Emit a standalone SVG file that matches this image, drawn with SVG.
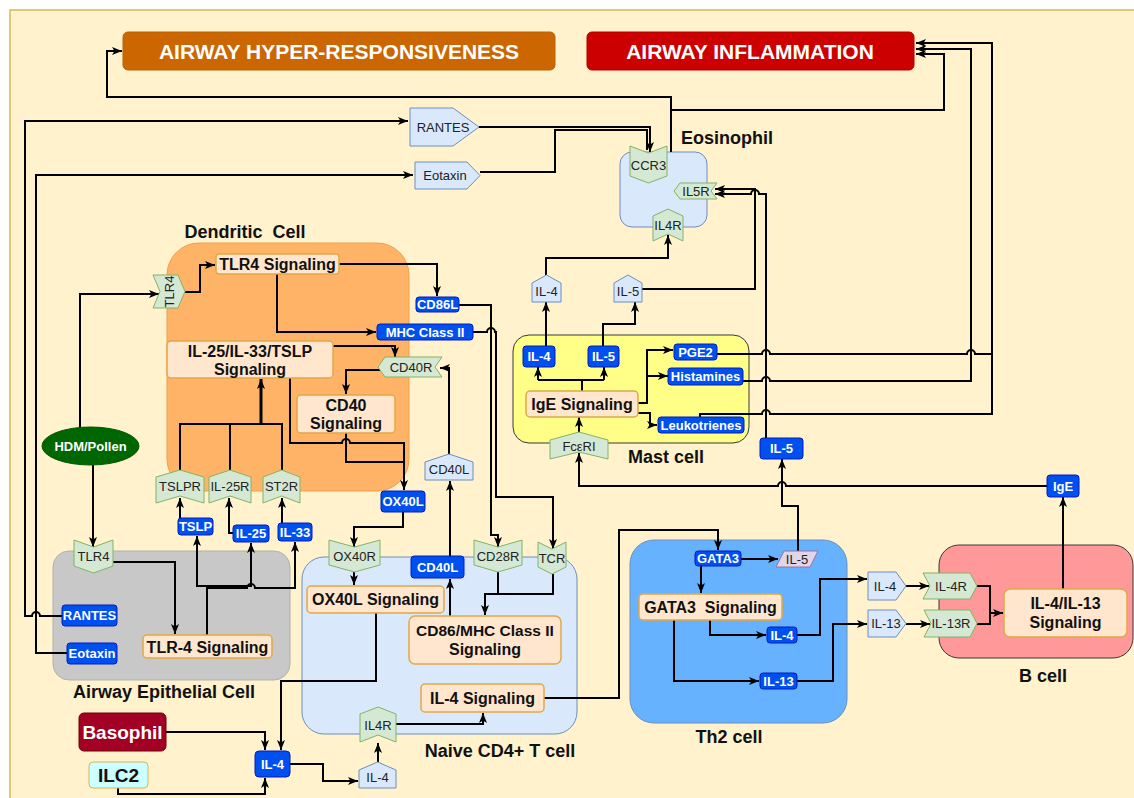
<svg xmlns="http://www.w3.org/2000/svg" width="1134" height="798" viewBox="0 0 1134 798">
  <defs>
    <marker id="ah" viewBox="0 0 10 10" refX="10" refY="5" markerWidth="10" markerHeight="10" markerUnits="userSpaceOnUse" orient="auto">
      <path d="M0,1 L10,5 L0,9 L2.5,5 z" fill="#000"/>
    </marker>
    <style>
      .cn{fill:none;stroke:#000;stroke-width:2;stroke-linejoin:miter}
      .ar{marker-end:url(#ah)}
      .bl{fill:#0050ef;stroke:#001dbc;stroke-width:1}
      .blt{font:bold 13px "Liberation Sans",Arial,sans-serif;fill:#fff;text-anchor:middle}
      .sg{fill:#ffe6cc;stroke:#e0a84a;stroke-width:1.5}
      .sgt{font:bold 16px "Liberation Sans",Arial,sans-serif;fill:#111;text-anchor:middle}
      .rc{fill:#d5e8d4;stroke:#82b366;stroke-width:1}
      .pt{fill:#dae8fc;stroke:#6c8ebf;stroke-width:1}
      .rt{font:13px "Liberation Sans",Arial,sans-serif;fill:#222;text-anchor:middle}
      .cl{font:bold 18px "Liberation Sans",Arial,sans-serif;fill:#111;text-anchor:middle}
      .tt{font:bold 21px "Liberation Sans",Arial,sans-serif;fill:#fff;text-anchor:middle}
    </style>
  </defs>

  <!-- page background -->
  <rect x="0" y="0" width="1134" height="798" fill="#ffffff"/>
  <rect x="10" y="10" width="1140" height="800" fill="#fff2cc" stroke="#d6b656" stroke-width="1.5"/>

  <!-- cell containers -->
  <g id="dendritic-cell">
    <rect x="167" y="243" width="242" height="248" rx="32" fill="#ffb366" stroke="#f0a04b"/>
    <text class="cl" x="245" y="238" xml:space="preserve">Dendritic  Cell</text>
  </g>
  <g id="epithelial-cell">
    <rect x="53" y="551" width="237" height="129" rx="16" fill="#c8c8c8" stroke="#b0b0b0"/>
    <text class="cl" x="164" y="698">Airway Epithelial Cell</text>
  </g>
  <g id="naive-t-cell">
    <rect x="302" y="557" width="275" height="177" rx="22" fill="#dae8fc" stroke="#6c8ebf"/>
    <text class="cl" x="500" y="757">Naive CD4+ T cell</text>
  </g>
  <g id="eosinophil">
    <rect x="620" y="152" width="87" height="75" rx="12" fill="#dae8fc" stroke="#6c8ebf"/>
    <text class="cl" x="727" y="144">Eosinophil</text>
  </g>
  <g id="mast-cell">
    <rect x="513" y="335" width="236" height="108" rx="16" fill="#ffff88" stroke="#36393d"/>
    <text class="cl" x="666" y="463">Mast cell</text>
  </g>
  <g id="th2-cell">
    <rect x="630" y="540" width="217" height="183" rx="24" fill="#66b2ff" stroke="#6c8ebf"/>
    <text class="cl" x="729" y="743">Th2 cell</text>
  </g>
  <g id="b-cell">
    <rect x="939" y="545" width="194" height="113" rx="20" fill="#ff9999" stroke="#36393d"/>
    <text class="cl" x="1043" y="682">B cell</text>
  </g>

  <!-- connectors -->
  <g id="connectors">
    <!-- eosinophil outputs -->
    <path class="cn ar" d="M671,152 V97 H107 V51 H122"/>
    <path class="cn ar" d="M671,110 H944 V54 H916"/>
    <!-- mast cell mediators to airway inflammation -->
    <path class="cn ar" d="M717,354 H762 a4,4 0 0 1 8,0 H967 a4,4 0 0 1 8,0 H992 V43 H916"/>
    <path class="cn ar" d="M743,381 H762 a4,4 0 0 1 8,0 H971 V49 H916"/>
    <path class="cn" d="M700,417 V414 H762 a4,4 0 0 1 8,0 H992 V354"/>
    <!-- IL-5 to eosinophil IL5R -->
    <path class="cn ar" d="M766,438 V194 H759 a4,4 0 0 0 -8,0 H715"/>
    <path class="cn ar" d="M642,289 H755 V189 H715"/>
    <!-- mast cell cytokines -->
    <path class="cn ar" d="M546,346 V302"/>
    <path class="cn ar" d="M546,275 V258 H668 V235"/>
    <path class="cn ar" d="M603,346 V324 H635 V302"/>
    <path class="cn" d="M582,391 V380 M538,380 H604"/>
    <path class="cn ar" d="M538,380 V367"/>
    <path class="cn ar" d="M604,380 V367"/>
    <path class="cn ar" d="M579,437 V417"/>
    <path class="cn ar" d="M1047,486 H786 a4,4 0 0 0 -8,0 H579 V453"/>
    <path class="cn ar" d="M638,403 H647 V350 H673"/>
    <path class="cn ar" d="M647,376 H668"/>
    <path class="cn ar" d="M638,413 H650 V425 H657"/>
    <path class="cn ar" d="M1063,589 V497"/>
    <path class="cn ar" d="M798,551 V506 H782 V459"/>
    <!-- chemokines to CCR3 -->
    <path class="cn ar" d="M479,127 H650 V152"/>
    <path class="cn" d="M480,172 H555 V130 H647 V150"/>
    <path class="cn ar" d="M62,616 H40 a4,4 0 0 0 -8,0 H25 V121 H408"/>
    <path class="cn ar" d="M67,653 H36 V175 H413"/>
    <!-- allergen sensing -->
    <path class="cn ar" d="M80,427 V294 H159"/>
    <path class="cn ar" d="M93,465 V547"/>
    <path class="cn ar" d="M185,292 H200 V265 H215"/>
    <path class="cn ar" d="M339,264 H437 V296"/>
    <path class="cn ar" d="M277,274 V332 H376"/>
    <path class="cn ar" d="M333,346 H395 V357"/>
    <path class="cn ar" d="M380,370 H346 V394"/>
    <path class="cn ar" d="M449,454 V368 H440"/>
    <path class="cn ar" d="M290,378 V443 H342 a4,4 0 0 1 8,0 H404 V490"/>
    <path class="cn" d="M346,433 V462 H404"/>
    <path class="cn" d="M180,470 V424 H282 V470 M230,470 V424"/>
    <path class="cn ar" d="M261,424 V379" style="stroke-width:3"/>
    <path class="cn ar" d="M180,518 V498"/>
    <path class="cn ar" d="M233,533 H229 V498"/>
    <path class="cn ar" d="M282,523 V498"/>
    <!-- epithelial signalling -->
    <path class="cn ar" d="M113,562 H175 V634"/>
    <path class="cn ar" d="M207,635 V586 H197 V536"/>
    <path class="cn ar" d="M207,586 H251 V543"/>
    <path class="cn ar" d="M207,588 H247 a4,4 0 0 1 8,0 H295 V542"/>
    <!-- T cell activation -->
    <path class="cn ar" d="M403,512 V527 H354 V547"/>
    <path class="cn ar" d="M354,572 V585"/>
    <path class="cn ar" d="M376,613 V681 H281 V750"/>
    <path class="cn ar" d="M450,556 V481"/>
    <path class="cn ar" d="M450,616 V579"/>
    <path class="cn ar" d="M459,305 H491 V535 H498 V547"/>
    <path class="cn ar" d="M473,332 H487 a4,4 0 0 1 8,0 H496 V497 H553 V549"/>
    <path class="cn" d="M498,572 V594"/>
    <path class="cn ar" d="M553,574 V594 H485 V615"/>
    <path class="cn ar" d="M392,724 H483 V713"/>
    <path class="cn ar" d="M378,762 V743"/>
    <path class="cn ar" d="M290,764 H323 V781 H358"/>
    <path class="cn ar" d="M166,732 H265 V750"/>
    <path class="cn ar" d="M118,788 V794 H265 V778"/>
    <!-- Th2 differentiation -->
    <path class="cn ar" d="M544,698 H619 V530 H718 V550"/>
    <path class="cn ar" d="M741,559 H778"/>
    <path class="cn ar" d="M701,566 V593"/>
    <path class="cn ar" d="M710,620 V635 H766"/>
    <path class="cn ar" d="M674,620 V681 H759"/>
    <path class="cn ar" d="M797,635 H820 V579 H867"/>
    <path class="cn ar" d="M797,681 H833 V624 H867"/>
    <path class="cn ar" d="M906,586 H929"/>
    <path class="cn ar" d="M906,624 H930"/>
    <path class="cn" d="M977,586 H990 V624 H977"/>
    <path class="cn ar" d="M990,613 H1003"/>
  </g>

  <!-- outcome boxes -->
  <g id="airway-hyper-responsiveness">
    <rect x="123" y="32" width="432" height="38" rx="5" fill="#cc6600" stroke="#b46504"/>
    <text class="tt" x="339" y="58.5">AIRWAY HYPER-RESPONSIVENESS</text>
  </g>
  <g id="airway-inflammation">
    <rect x="587" y="32" width="327" height="38" rx="5" fill="#cc0000" stroke="#b20000"/>
    <text class="tt" x="750" y="58.5">AIRWAY INFLAMMATION</text>
  </g>

  <!-- chemokine pentagons -->
  <g id="rantes"><polygon class="pt" points="410,108 453,108 479,127 453,146 410,146"/><text class="rt" x="443" y="132">RANTES</text></g>
  <g id="eotaxin"><polygon class="pt" points="415,162 467,162 480,175.5 467,189 415,189"/><text class="rt" x="445" y="180">Eotaxin</text></g>

  <!-- eosinophil receptors -->
  <g id="ccr3"><polygon class="rc" points="630,146 648.5,153 667,146 667,176 648.5,183 630,176"/><text class="rt" x="648.5" y="170">CCR3</text></g>
  <g id="il5r-eos"><polygon class="rc" points="674,191 680,183 717,183 711,191 717,199 680,199"/><text class="rt" x="696" y="195.5">IL5R</text></g>
  <g id="il4r-eos"><polygon class="rc" points="653,216 668,209 683,216 683,241 668,234 653,241"/><text class="rt" x="668" y="230">IL4R</text></g>

  <!-- mast cell outputs -->
  <g id="il4-mast-out"><polygon class="pt" points="532,283 546.5,275 561,283 561,302 532,302"/><text class="rt" x="546.5" y="296">IL-4</text></g>
  <g id="il5-mast-out"><polygon class="pt" points="614,283 628,275 642,283 642,302 614,302"/><text class="rt" x="628" y="296">IL-5</text></g>

  <!-- dendritic cell nodes -->
  <g id="tlr4-dc"><polygon class="rc" points="153,275 178,275 185,291.5 178,308 153,308 160,291.5"/><text class="rt" transform="translate(174,291.5) rotate(-90)">TLR4</text></g>
  <g id="tlr4-signaling-dc"><rect class="sg" x="216" y="254" width="123" height="20" rx="3"/><text class="sgt" x="277.5" y="269.5">TLR4 Signaling</text></g>
  <g id="cd86l"><rect class="bl" x="416" y="297" width="43" height="15" rx="3"/><text class="blt" x="437.5" y="309">CD86L</text></g>
  <g id="mhc-class-ii"><rect class="bl" x="377" y="324" width="96" height="16" rx="3"/><text class="blt" x="425" y="336.5">MHC Class II</text></g>
  <g id="il25-il33-tslp-signaling"><rect class="sg" x="167" y="341" width="166" height="37" rx="4"/><text class="sgt" x="250" y="357">IL-25/IL-33/TSLP</text><text class="sgt" x="250" y="374.5">Signaling</text></g>
  <g id="cd40r"><polygon class="rc" points="378,367 385,357 442,357 435,367 442,377 385,377"/><text class="rt" x="411" y="371.5">CD40R</text></g>
  <g id="cd40-signaling"><rect class="sg" x="297" y="395" width="98" height="38" rx="4"/><text class="sgt" x="346" y="411">CD40</text><text class="sgt" x="346" y="428.5">Signaling</text></g>
  <g id="ox40l"><rect class="bl" x="381" y="491" width="44" height="21" rx="3"/><text class="blt" x="403" y="506">OX40L</text></g>
  <g id="cd40l-out"><polygon class="pt" points="425,462 449,454 473,462 473,480 425,480"/><text class="rt" x="449" y="474">CD40L</text></g>
  <g id="tslpr"><polygon class="rc" points="156,477 180,470 204,477 204,503 180,496 156,503"/><text class="rt" x="180" y="491">TSLPR</text></g>
  <g id="il25r"><polygon class="rc" points="209,477 230,470 251,477 251,503 230,496 209,503"/><text class="rt" x="230" y="491">IL-25R</text></g>
  <g id="st2r"><polygon class="rc" points="263,477 281.5,470 300,477 300,503 281.5,496 263,503"/><text class="rt" x="281.5" y="491">ST2R</text></g>

  <!-- epithelial cell nodes -->
  <g id="hdm-pollen"><ellipse cx="90.5" cy="446" rx="48.5" ry="19" fill="#006600" stroke="#005700"/><text class="blt" x="90.5" y="450.5">HDM/Pollen</text></g>
  <g id="tslp"><rect class="bl" x="178" y="518" width="35" height="17" rx="3"/><text class="blt" x="195.5" y="531">TSLP</text></g>
  <g id="il25"><rect class="bl" x="233" y="525" width="36" height="17" rx="3"/><text class="blt" x="251" y="538">IL-25</text></g>
  <g id="il33"><rect class="bl" x="278" y="523" width="34" height="18" rx="3"/><text class="blt" x="295" y="536.5">IL-33</text></g>
  <g id="tlr4-epi"><polygon class="rc" points="74,540 93.5,547 113,540 113,566 93.5,573 74,566"/><text class="rt" x="93.5" y="561">TLR4</text></g>
  <g id="rantes-epi"><rect class="bl" x="62" y="605" width="55" height="21" rx="3"/><text class="blt" x="89.5" y="620">RANTES</text></g>
  <g id="eotaxin-epi"><rect class="bl" x="67" y="643" width="50" height="21" rx="3"/><text class="blt" x="92" y="658">Eotaxin</text></g>
  <g id="tlr4-signaling-epi"><rect class="sg" x="143" y="635" width="129" height="23" rx="4"/><text class="sgt" x="207.5" y="652.5">TLR-4 Signaling</text></g>

  <!-- naive T cell nodes -->
  <g id="ox40r"><polygon class="rc" points="329,540 354.5,547 380,540 380,565 354.5,572 329,565"/><text class="rt" x="354.5" y="561">OX40R</text></g>
  <g id="ox40l-signaling"><rect class="sg" x="307" y="586" width="137" height="27" rx="4"/><text class="sgt" x="375.5" y="605">OX40L Signaling</text></g>
  <g id="cd40l-t"><rect class="bl" x="411" y="556" width="53" height="22" rx="3"/><text class="blt" x="437.5" y="571.5">CD40L</text></g>
  <g id="cd28r"><polygon class="rc" points="474,540 498,547 522,540 522,565 498,572 474,565"/><text class="rt" x="498" y="561">CD28R</text></g>
  <g id="tcr"><polygon class="rc" points="538,542 552,549 566,542 566,567 552,574 538,567"/><text class="rt" x="552" y="563">TCR</text></g>
  <g id="cd86-mhc-signaling"><rect class="sg" x="409" y="616" width="152" height="48" rx="6"/><text class="sgt" x="485" y="636" style="font-size:15.5px">CD86/MHC Class II</text><text class="sgt" x="485" y="655">Signaling</text></g>
  <g id="il4-signaling"><rect class="sg" x="421" y="684" width="123" height="28" rx="4"/><text class="sgt" x="482.5" y="704">IL-4 Signaling</text></g>
  <g id="il4r-t"><polygon class="rc" points="360,714 378,707 396,714 396,742 378,735 360,742"/><text class="rt" x="378" y="730">IL4R</text></g>
  <g id="il4-in"><polygon class="pt" points="359,770 377.5,762 396,770 396,788 359,788"/><text class="rt" x="377.5" y="782">IL-4</text></g>
  <g id="il4-source"><rect class="bl" x="255" y="751" width="35" height="26" rx="4"/><text class="blt" x="272.5" y="769">IL-4</text></g>
  <g id="basophil"><rect x="79" y="713" width="87" height="38" rx="5" fill="#a20025" stroke="#6f0000"/><text class="tt" x="122.5" y="739" style="font-size:19px">Basophil</text></g>
  <g id="ilc2"><rect x="89" y="762" width="59" height="26" rx="4" fill="#ccffff" stroke="#d6b656"/><text class="tt" x="118.5" y="782" style="font-size:19px;fill:#111">ILC2</text></g>

  <!-- Th2 cell nodes -->
  <g id="gata3"><rect class="bl" x="695" y="551" width="46" height="15" rx="3"/><text class="blt" x="718" y="563">GATA3</text></g>
  <g id="il5-th2"><polygon points="784,551 818,551 810,567 776,567" fill="#e1d5e7" stroke="#9673a6"/><text class="rt" x="797" y="564">IL-5</text></g>
  <g id="gata3-signaling"><rect class="sg" x="639" y="594" width="143" height="26" rx="4"/><text class="sgt" x="710.5" y="613" xml:space="preserve">GATA3  Signaling</text></g>
  <g id="il4-th2"><rect class="bl" x="767" y="627" width="30" height="16" rx="3"/><text class="blt" x="782" y="639.5">IL-4</text></g>
  <g id="il13-th2"><rect class="bl" x="760" y="673" width="37" height="16" rx="3"/><text class="blt" x="778.5" y="685.5">IL-13</text></g>

  <!-- B cell nodes -->
  <g id="il4-to-b"><polygon class="pt" points="868,572 896,572 906,586 896,600 868,600"/><text class="rt" x="885" y="591">IL-4</text></g>
  <g id="il13-to-b"><polygon class="pt" points="868,610 896,610 906,623.5 896,637 868,637"/><text class="rt" x="886" y="628">IL-13</text></g>
  <g id="il4r-b"><polygon class="rc" points="923,573 970,573 977,586 970,599 923,599 930,586"/><text class="rt" x="951" y="590.5">IL-4R</text></g>
  <g id="il13r-b"><polygon class="rc" points="924,610 970,610 977,623.5 970,637 924,637 931,623.5"/><text class="rt" x="951" y="628">IL-13R</text></g>
  <g id="il4-il13-signaling"><rect class="sg" x="1004" y="589" width="123" height="48" rx="6"/><text class="sgt" x="1065.5" y="608.5">IL-4/IL-13</text><text class="sgt" x="1065.5" y="627.5">Signaling</text></g>
  <g id="ige"><rect class="bl" x="1047" y="475" width="32" height="22" rx="3"/><text class="blt" x="1063" y="490.5">IgE</text></g>

  <!-- mast cell nodes -->
  <g id="il4-mast"><rect class="bl" x="523" y="346" width="32" height="21" rx="3"/><text class="blt" x="539" y="361">IL-4</text></g>
  <g id="il5-mast"><rect class="bl" x="588" y="346" width="31" height="21" rx="3"/><text class="blt" x="603.5" y="361">IL-5</text></g>
  <g id="ige-signaling"><rect class="sg" x="526" y="391" width="112" height="26" rx="4"/><text class="sgt" x="582" y="410">IgE Signaling</text></g>
  <g id="fceri"><polygon class="rc" points="550,440 579,432 608,440 608,459 579,452 550,459"/><text class="rt" x="579" y="451">FcεRI</text></g>
  <g id="pge2"><rect class="bl" x="674" y="344" width="43" height="16" rx="3"/><text class="blt" x="695.5" y="356.5">PGE2</text></g>
  <g id="histamines"><rect class="bl" x="668" y="368" width="75" height="17" rx="3"/><text class="blt" x="705.5" y="381">Histamines</text></g>
  <g id="leukotrienes"><rect class="bl" x="658" y="417" width="86" height="16" rx="3"/><text class="blt" x="701" y="429.5">Leukotrienes</text></g>
  <g id="il5-mast-side"><rect class="bl" x="760" y="438" width="43" height="21" rx="3"/><text class="blt" x="781.5" y="453">IL-5</text></g>
</svg>
